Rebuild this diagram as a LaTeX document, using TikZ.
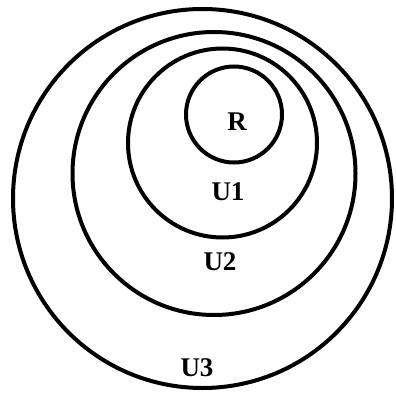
\documentclass[tikz,border=0pt]{standalone}
\usepackage{fontspec}
\setmainfont{Liberation Serif}
\usepackage{tikz}
\usetikzlibrary{positioning}

\begin{document}
\begin{tikzpicture}[x=1pt, y=-1pt,
    ring/.style={draw, circle, line width=4pt, inner sep=0pt},
    every node/.style={font=\fontsize{27}{30}\selectfont\bfseries}]
  \useasboundingbox (0,0) rectangle (396,396);
  % nested sets
  \node[ring, minimum size=379pt] (u3) at (202.5,198.5) {};
  \node[ring, minimum size=283pt] (u2) at (214,173.5) {};
  \node[ring, minimum size=189pt] (u1) at (222.5,143) {};
  \node[ring, minimum size=96pt] (r) at (234,114.5) {};
  % labels
  \node (rlab) at (237,122) {R};
  \node (u1lab) at (228,192) {U1};
  \node (u2lab) at (220,262) {U2};
  \node (u3lab) at (197,368) {U3};
\end{tikzpicture}
\end{document}
